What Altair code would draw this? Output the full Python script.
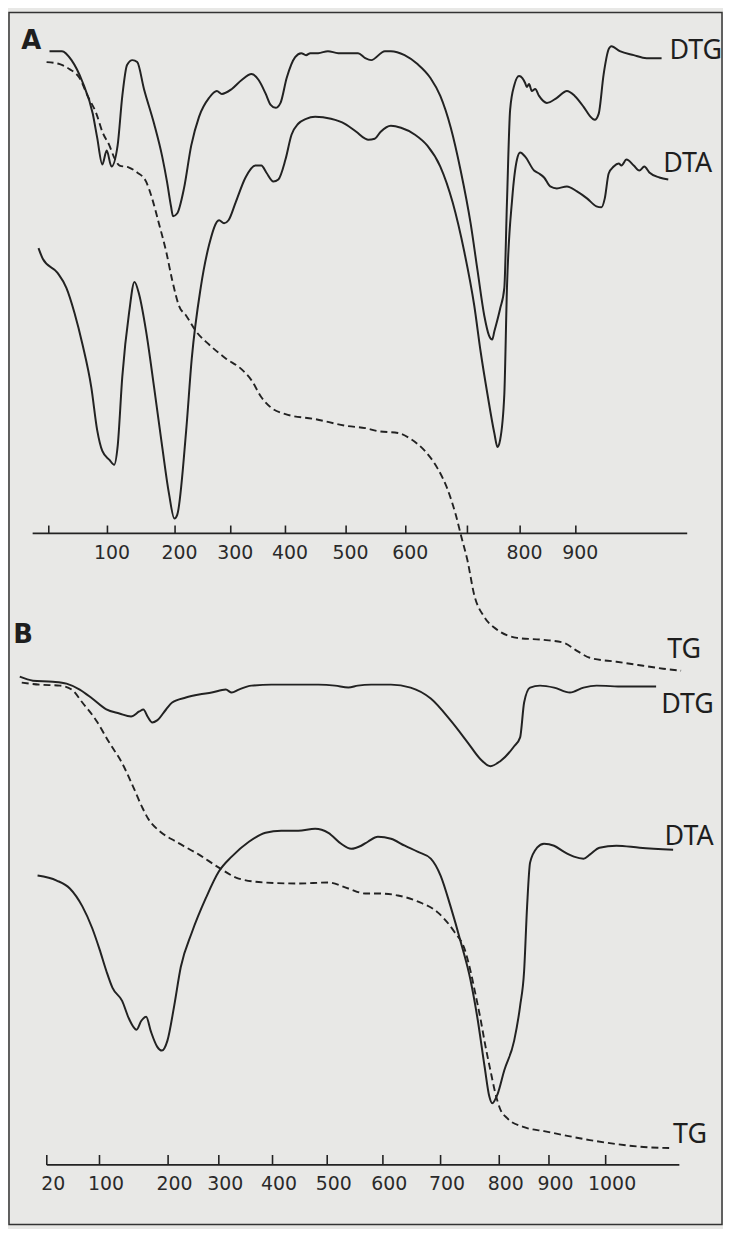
import altair as alt
import pandas as pd

# ---------------- Panel A (temperature in deg C, deflection in figure units, downward positive)
A_DTG_T = [21,38,51,66,80,86,93,99,106,115,122,129,137,144,154,169,181,188,194,197,204,216,229,243,261,275,284,302,320,338,351,364,373,382,391,402,416,426,434,441,454,470,487,520,532,542,565,575,598,619,640,656,673,689,706,719,732,741,747,751,762,770,775,781,789,798,804,809,812,816,821,827,834,848,866,884,898,914,925,934,941,950,959,964,979,1004,1027,1054]
A_DTG_Y = [48,48,57,79,111,135,162,148,164,143,93,62,57,59,86,121,154,179,204,214,211,186,143,114,95,88,91,86,77,71,77,91,102,105,100,75,54,50,52,50,50,48,50,50,55,57,48,48,52,61,75,93,125,168,221,268,314,334,338,330,307,286,200,107,82,73,75,80,84,81,88,86,93,100,95,88,93,104,113,117,111,71,46,43,48,52,55,55]

A_DTA_T = [6,12,32,44,55,66,78,86,93,103,110,115,122,132,140,147,157,169,181,191,199,204,220,230,246,261,279,288,296,309,327,345,356,365,378,387,400,410,421,434,449,475,498,517,532,537,548,558,575,592,615,635,656,676,695,713,725,738,751,757,762,770,775,785,794,800,809,825,834,843,854,866,884,902,920,937,946,952,959,968,977,982,991,1004,1014,1023,1032,1050,1066]
A_DTA_Y = [246,257,271,286,311,343,386,429,450,459,464,446,375,311,280,293,329,386,446,493,518,514,429,357,286,243,218,221,218,200,175,163,163,170,179,177,157,132,121,116,114,116,121,129,136,137,136,129,123,125,132,143,164,200,250,304,350,393,432,446,439,393,286,196,157,150,154,168,171,175,184,186,184,189,196,204,205,196,171,164,161,163,157,163,168,164,170,175,177]

A_TG_T = [17,35,48,62,73,85,93,103,110,118,132,144,157,166,176,187,196,207,220,238,261,291,320,338,356,375,400,449,503,532,553,587,608,631,652,668,681,690,700,713,732,757,794,843,879,902,925,973,1021,1057,1089]
A_TG_Y = [59,61,66,75,93,111,129,143,155,163,165,170,179,196,221,250,279,304,314,330,343,357,368,379,396,407,413,418,425,427,430,432,438,450,468,489,514,536,560,595,617,630,638,640,643,651,658,662,666,669,671]

A_TICKS = [20,100,200,300,400,500,600,700,800,900]
A_LABELS = [100,200,300,400,500,600,800,900]
A_NAMES = ["DTG","DTA","TG"]
A_NAME_T = [1068,1057,1064]
A_NAME_Y = [48,161,650]

# ---------------- Panel B
B_DTG_T = [-21,-1,29,50,70,89,110,129,146,158,164,170,177,184,197,208,235,261,286,313,324,337,361,398,447,484,514,538,555,579,614,648,683,717,746,768,785,802,830,842,850,862,882,909,937,961,984,1032,1089]
B_DTG_Y = [677,681,682,684,690,699,710,714,717,712,710,717,723,721,710,703,698,695,693,690,693,690,686,685,685,685,686,688,686,685,685,688,699,721,743,760,767,762,747,738,703,688,686,688,693,688,686,687,687]

B_DTA_T = [6,35,55,74,89,100,110,119,133,143,154,161,168,175,184,191,199,212,225,247,275,300,324,356,387,416,447,478,502,525,543,561,573,591,614,638,660,683,700,717,734,751,763,775,783,788,797,810,830,842,850,856,862,876,890,909,926,944,961,972,989,1019,1060,1119]
B_DTA_Y = [877,882,890,908,930,951,973,990,1003,1021,1032,1023,1019,1034,1049,1053,1043,1008,969,934,899,873,858,843,834,832,832,830,834,845,850,847,843,838,840,847,853,860,877,908,943,982,1021,1069,1099,1106,1097,1073,1043,1008,973,908,864,849,845,847,853,858,860,856,849,847,849,851]

B_TG_T = [-18,9,40,58,74,95,114,133,148,162,172,187,216,261,300,337,387,447,502,538,568,591,626,660,695,724,741,751,759,768,776,785,793,802,816,850,890,926,972,1019,1067,1112]
B_TG_Y = [683,685,686,690,703,721,743,764,786,808,821,832,843,856,869,880,884,885,884,890,895,895,897,903,914,934,951,973,995,1021,1047,1073,1095,1112,1121,1130,1134,1138,1143,1147,1150,1151]

B_TICKS = [20,100,200,300,400,500,600,700,800,900,1000]
B_LABELS = B_TICKS
B_NAMES = ["DTG","DTA","TG"]
B_NAME_T = [1098,1104,1119]
B_NAME_Y = [706,838,1138]

# ---------------- layout (pixels inside the plot area)
W, H = 717, 1219
A_TICK_PX = [40, 99, 167, 223, 278, 339, 399, 461, 514, 570]
B_TICK_PX = [38, 91, 160, 211, 265, 320, 376, 434, 493, 543, 600]
A_AXIS_Y, B_AXIS_Y = 533, 1168
INK = "#222222"


def curve(T, Y, name):
    return pd.DataFrame({"T": T, "Y": Y, "i": range(len(T)), "curve": name})


yS = alt.Scale(domain=[9, 1228], reverse=True, nice=False, zero=False)


def panel(dtg, dta, tg, ticks, tick_px, labels, names, name_t, name_y,
          letter, letter_t, letter_y, axis_y, axis_t0, axis_t1, tick_len, lab_off):
    xs = alt.Scale(domain=ticks, range=tick_px, nice=False, zero=False)
    ax = alt.Axis(orient="bottom", offset=-(H - (axis_y - 9)), values=labels,
                  domain=False, ticks=False, tickSize=0, grid=False, title=None,
                  labelFont="DejaVu Sans", labelFontSize=19, labelColor="#2a2a2a",
                  labelPadding=10, labelOffset=lab_off, labelFlush=False,
                  labelOverlap=False, format="d")
    X = alt.X("T:Q", scale=xs, axis=ax)
    Yc = alt.Y("Y:Q", scale=yS, axis=None)
    solid = alt.Chart(pd.concat([dtg, dta])).mark_line(
        color=INK, strokeWidth=2.0, interpolate="monotone"
    ).encode(x=X, y=Yc, detail="curve:N", order="i:Q")
    dashed = alt.Chart(tg).mark_line(
        color=INK, strokeWidth=1.9, strokeDash=[7, 4], interpolate="monotone"
    ).encode(x=X, y=Yc, order="i:Q")
    tdf = pd.DataFrame({"T": ticks, "Y": axis_y, "Y2": axis_y - tick_len})
    tk = alt.Chart(tdf).mark_rule(color=INK, strokeWidth=1.6).encode(
        x=X, y=Yc, y2="Y2:Q")
    dom = alt.Chart(pd.DataFrame({"T": [axis_t0], "T2": [axis_t1], "Y": [axis_y]})).mark_rule(
        color=INK, strokeWidth=1.8).encode(x=X, x2="T2:Q", y=Yc)
    ndf = pd.DataFrame({"T": name_t, "Y": name_y, "txt": names})
    nm = alt.Chart(ndf).mark_text(align="left", baseline="middle", font="Noto Sans",
                                  fontSize=27, color="#1e1e1e").encode(x=X, y=Yc, text="txt:N")
    ldf = pd.DataFrame({"T": [letter_t], "Y": [letter_y], "txt": [letter]})
    lt = alt.Chart(ldf).mark_text(align="center", baseline="middle", font="DejaVu Sans",
                                  fontWeight="bold", fontSize=26, color="#1e1e1e").encode(
        x=X, y=Yc, text="txt:N")
    return alt.layer(solid, dashed, tk, dom, nm, lt)


panelA = panel(curve(A_DTG_T, A_DTG_Y, "DTG"), curve(A_DTA_T, A_DTA_Y, "DTA"),
               curve(A_TG_T, A_TG_Y, "TG"), A_TICKS, A_TICK_PX, A_LABELS,
               A_NAMES, A_NAME_T, A_NAME_Y, "A", -4, 38, A_AXIS_Y, -2, 1100, 8, 4)
panelB = panel(curve(B_DTG_T, B_DTG_Y, "DTG"), curve(B_DTA_T, B_DTA_Y, "DTA"),
               curve(B_TG_T, B_TG_Y, "TG"), B_TICKS, B_TICK_PX, B_LABELS,
               B_NAMES, B_NAME_T, B_NAME_Y, "B", -16, 635, B_AXIS_Y, 20, 1130, 10, 6)

chart = alt.layer(panelA, panelB).resolve_scale(x="independent").resolve_axis(x="independent").properties(
    width=W, height=H, padding=1, autosize=alt.AutoSizeParams(type="none")
).configure(background="#e8e8e6").configure_view(stroke="#333333", strokeWidth=1.5)

chart.save("out.html", embed_options={"renderer": "svg", "actions": False})
